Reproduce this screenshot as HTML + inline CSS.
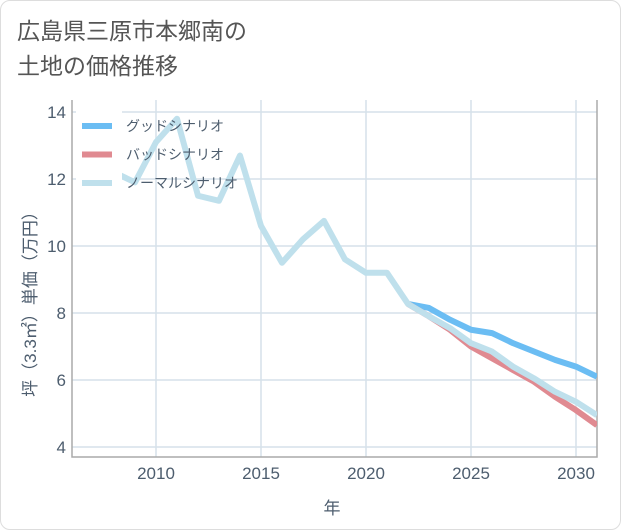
<!DOCTYPE html>
<html><head><meta charset="utf-8"><style>
html,body{margin:0;padding:0;background:#fff;}
#wrap{position:relative;width:619px;height:528px;border:1px solid #ddd;border-radius:10px;overflow:hidden;font-family:"Liberation Sans","Noto Sans CJK JP",sans-serif;}
#title{position:absolute;left:16px;top:13px;font-size:23px;line-height:35px;color:#555;}
</style></head><body>
<div id="wrap">
<div id="title">広島県三原市本郷南の<br>土地の価格推移</div>
<svg id="chart" width="621" height="530" style="position:absolute;left:-1px;top:-1px"></svg>
</div>
<script>
const years=[2008,2009,2010,2011,2012,2013,2014,2015,2016,2017,2018,2019,2020,2021,2022,2023,2024,2025,2026,2027,2028,2029,2030,2031];
const normal=[12.2,11.9,13.1,13.8,11.5,11.35,12.7,10.6,9.5,10.2,10.75,9.6,9.2,9.2,8.27,7.9,7.55,7.1,6.85,6.4,6.05,5.65,5.35,4.95];
const futYears=[2022,2023,2024,2025,2026,2027,2028,2029,2030,2031];
const good=[8.27,8.15,7.8,7.5,7.4,7.1,6.85,6.6,6.4,6.1];
const bad=[8.27,7.9,7.5,7.0,6.65,6.3,5.95,5.5,5.1,4.65];
const xTicks=[2010,2015,2020,2025,2030];
const yTicks=[4,6,8,10,12,14];
const NS="http://www.w3.org/2000/svg";
const svg=document.getElementById('chart');
const L=72,R=597,T=100,B=457;
const TXT='#4d5d6e';
const xs=y=>156+(y-2010)*21;
const ys=v=>447-(v-4)*33.5;
function mk(tag,attrs){const e=document.createElementNS(NS,tag);for(const k in attrs)e.setAttribute(k,attrs[k]);svg.appendChild(e);return e;}
const clip=mk('clipPath',{id:'pc'});
const cr=document.createElementNS(NS,'rect');cr.setAttribute('x',L);cr.setAttribute('y',T);cr.setAttribute('width',R-L);cr.setAttribute('height',B-T);clip.appendChild(cr);
yTicks.forEach(v=>{
 const g=mk('line',{x1:L,x2:R,y1:ys(v),y2:ys(v),stroke:'#d5e1ea','stroke-width':1.5});
 
 
 const t=mk('text',{x:L-6,y:ys(v)+6,'text-anchor':'end','font-size':17,fill:TXT});
 t.textContent=v;
 
 
});
xTicks.forEach(v=>{
 const g=mk('line',{x1:xs(v),x2:xs(v),y1:T,y2:B,stroke:'#d5e1ea','stroke-width':1.5});
 
 
 const t=mk('text',{x:xs(v),y:B+22,'text-anchor':'middle','font-size':17,fill:TXT});
 t.textContent=v;
 
 
});
const ax=mk('path',{d:`M${L} ${T}V${B}H${R}V${T}`,fill:'none',stroke:'#aaa','stroke-width':1.5});


function line(xv,yv,color,name){
 const d=xv.map((x,i)=>(i?'L':'M')+xs(x)+' '+ys(yv[i])).join('');
 const p=mk('path',{d,fill:'none',stroke:color,'stroke-width':6,'stroke-linejoin':'round','clip-path':'url(#pc)'});
 
 
}
line(futYears,good,'#6bbdf3','good-scenario-line');
line(futYears,bad,'#e08a91','bad-scenario-line');
line(years,normal,'#bfe0ec','normal-scenario-line');
const lg=mk('rect',{x:76,y:108,width:46,height:90,fill:'#fff'});


[['グッドシナリオ','#6bbdf3'],['バッドシナリオ','#e08a91'],['ノーマルシナリオ','#bfe0ec']].forEach((e,i)=>{
 const y=126+i*28.5;
 const l=mk('line',{x1:82,x2:112,y1:y,y2:y,stroke:e[1],'stroke-width':6});
 
 
 const t=mk('text',{x:126,y:y+5,'font-size':14,fill:TXT});
 t.textContent=e[0];
 
 
});
const xt=mk('text',{x:332,y:514,'text-anchor':'middle','font-size':17,fill:TXT});
xt.textContent='年';


const yt=mk('text',{x:36,y:300,'text-anchor':'middle','font-size':17,fill:TXT,transform:'rotate(-90 36 300)'});
yt.textContent='坪（3.3㎡）単価（万円）';


</script>
</body></html>
